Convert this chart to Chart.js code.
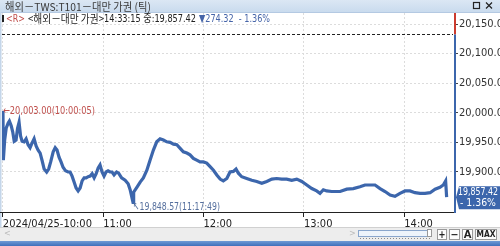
<!DOCTYPE html>
<html><head><meta charset="utf-8">
<script src="https://cdn.jsdelivr.net/npm/chart.js@4.4.1/dist/chart.umd.min.js"></script>
<style>html,body{margin:0;padding:0;background:#fff;}canvas{display:block;}</style>
</head><body>
<div style="width:500px;height:246px;position:relative"><canvas id="c" width="500" height="246"></canvas></div>
<script>
// ---- data (minutes after 10:00, KST) ----
const timeMin = [0.08,0.3,1.1,2.0,3.2,3.9,5.0,5.9,6.8,7.9,8.8,9.7,10.6,11.5,12.7,13.9,15.1,16.3,17.5,18.7,19.9,21.1,22.3,23.5,24.7,26.2,27.4,28.6,30.1,31.3,32.4,33.6,34.8,36.0,37.5,39.0,40.2,41.4,42.6,43.8,45.0,46.2,47.4,48.6,49.8,51.0,52.2,53.4,54.6,55.8,57.0,58.1,59.3,60.5,61.7,62.9,64.1,65.3,66.5,68.0,69.2,71.0,73.1,74.9,76.1,77.82,78.2,80.3,82.1,84.0,86.1,88.0,90.0,92.0,94.0,96.0,98.0,100.0,102.0,104.0,106.0,107.9,110.0,111.9,113.9,115.9,117.9,119.9,121.9,123.9,125.9,127.9,129.9,131.8,133.9,135.8,137.8,139.4,140.8,142.8,145.8,148.8,151.8,154.8,157.8,160.8,163.7,166.7,169.7,172.7,175.7,178.7,181.7,184.7,187.6,189.6,191.6,193.6,196.6,199.6,201.6,205.6,209.5,213.5,216.5,219.5,222.5,225.5,228.5,231.5,234.4,237.4,240.4,243.4,246.4,249.4,252.4,255.4,258.4,261.3,263.3,264.7,265.3];
const price = [20003,19920,19954,19974,19983,19986,19978,19968,19952,19954,19974,19984,19961,19952,19951,19956,19946,19941,19949,19956,19944,19937,19932,19919,19905,19900,19905,19917,19934,19941,19937,19925,19917,19908,19902,19900,19900,19893,19883,19873,19868,19873,19885,19890,19890,19892,19893,19897,19890,19897,19907,19912,19900,19893,19900,19902,19900,19900,19895,19900,19898,19890,19886,19880,19870,19848.57,19866,19875,19883,19890,19903,19920,19937,19951,19956,19954,19951,19950,19947,19946,19940,19934,19932,19929,19923,19920,19917,19917,19915,19909,19903,19895,19888,19885,19889,19900,19901,19905,19898,19892,19889,19886,19884,19881,19884,19888,19889,19888,19888,19886,19888,19884,19878,19872,19868,19864,19870,19868,19867,19867,19867,19871,19872,19875,19878,19878,19878,19872,19867,19861,19859,19864,19868,19868,19865,19864,19864,19865,19871,19874,19878,19885,19857.42];
const xTickMin = [0,60,120,180,240];
const xTickLabels = ['2024/04/25-10:00','11:00','12:00','13:00','14:00'];
const yTicks = [20150,20100,20050,20000,19950,19900];
const prevClose = 20131.74;
const lastPrice = 19857.42;
const lastTime = '14:33:15';
const change = 274.32;
const changePct = -1.36;
const maxPoint = {value:20003.00, time:'10:00:05', min:0.08};
const minPoint = {value:19848.57, time:'11:17:49', min:77.82};
const titleText = '해외－TWS:T101－대만 가권 (틱)';
const itemName = '<해외－대만 가권>';

const fmt = v => v.toLocaleString('en-US',{minimumFractionDigits:2,maximumFractionDigits:2});
const NARROW = "'Liberation Sans Narrow','DejaVu Sans Condensed','Liberation Sans','Noto Sans CJK KR',sans-serif";
const KR = "'Noto Sans CJK KR','Noto Sans',sans-serif";
const BLUE = '#3c66ac';
const RED = '#cc3b2e';

function txt(ctx, s, x, y, font, color, maxW, align) {
  ctx.font = font; ctx.fillStyle = color; ctx.textAlign = align || 'left';
  ctx.textBaseline = 'middle';
  if (maxW) ctx.fillText(s, x, y, maxW); else ctx.fillText(s, x, y);
}

const deco = {
  id: 'deco',
  beforeDraw(chart) {
    const ctx = chart.ctx;
    ctx.save();
    ctx.fillStyle = '#ffffff'; ctx.fillRect(0,0,500,246);
    // title bar
    const g = ctx.createLinearGradient(0,0,0,12);
    g.addColorStop(0,'#dbe7f4'); g.addColorStop(1,'#c9dbee');
    ctx.fillStyle = g; ctx.fillRect(0,0,500,12);
    ctx.fillStyle = '#b4c9e2'; ctx.fillRect(0,12,500,1);
    txt(ctx, titleText, 5, 6.5, '11px '+KR, '#3a3a3a', 146);
    // window icons
    ctx.strokeStyle = '#222'; ctx.lineWidth = 1.2;
    ctx.strokeRect(473.5,2.5,6,6);
    ctx.beginPath(); ctx.moveTo(486,2.5); ctx.lineTo(492,8.5); ctx.moveTo(492,2.5); ctx.lineTo(486,8.5); ctx.stroke();
    // left border
    ctx.fillStyle = '#c4d6ea'; ctx.fillRect(0,12,1.5,229);
    // scroll area
    ctx.fillStyle = '#d0d0d0'; ctx.fillRect(0,227,500,1);
    ctx.fillStyle = '#ededed'; ctx.fillRect(0,228,500,13);
    txt(ctx,'<',4,234,'9px '+NARROW,'#bbb');
    txt(ctx,'>',349,234,'9px '+NARROW,'#bbb');
    ctx.fillStyle = '#eef4fb'; ctx.fillRect(358,230,74,6);
    ctx.strokeStyle = '#8aa6cc'; ctx.lineWidth = 1; ctx.strokeRect(358.5,230.5,73,6);
    ctx.fillStyle = '#fff'; ctx.fillRect(427,229,5,8); ctx.strokeStyle='#999'; ctx.strokeRect(427.5,229.5,4,7);
    ctx.fillStyle = '#8a8a8a';
    for (let x=360; x<430; x+=3) ctx.fillRect(x,238,1,1);
    const btns = [['+',437,447],['−',449,460],['A',462,473],['MAX',475,497]];
    btns.forEach(b=>{
      ctx.fillStyle='#fdfdfd'; ctx.fillRect(b[1],229,b[2]-b[1],11);
      ctx.strokeStyle='#9a9a9a'; ctx.strokeRect(b[1]+0.5,229.5,b[2]-b[1]-1,10);
      txt(ctx,b[0],(b[1]+b[2])/2,235,'bold '+(b[0]==='MAX'?'8px ':'10px ')+"'DejaVu Sans',sans-serif",'#222',b[2]-b[1]-3,'center');
    });
    // bottom blue band
    const g2 = ctx.createLinearGradient(0,241,0,246);
    g2.addColorStop(0,'#6f9ad6'); g2.addColorStop(1,'#3f70bb');
    ctx.fillStyle = g2; ctx.fillRect(0,241,500,5);
    ctx.restore();
  },
  afterDatasetsDraw(chart) {
    const ctx = chart.ctx, xs = chart.scales.x, ys = chart.scales.y, a = chart.chartArea;
    ctx.save();
    // previous close dashed line
    const yp = Math.round(ys.getPixelForValue(prevClose)) - 0.5;
    ctx.strokeStyle = '#222'; ctx.lineWidth = 1; ctx.setLineDash([3,2]);
    ctx.beginPath(); ctx.moveTo(a.left, yp); ctx.lineTo(a.right-2, yp); ctx.stroke();
    ctx.setLineDash([]);
    // x axis line
    ctx.strokeStyle = '#222'; ctx.beginPath(); ctx.moveTo(0,a.bottom+0.5); ctx.lineTo(a.right,a.bottom+0.5); ctx.stroke();
    // right axis: red above previous close, blue below
    ctx.lineWidth = 2;
    ctx.strokeStyle = RED; ctx.beginPath(); ctx.moveTo(a.right,a.top); ctx.lineTo(a.right,yp); ctx.stroke();
    ctx.strokeStyle = BLUE; ctx.beginPath(); ctx.moveTo(a.right,yp); ctx.lineTo(a.right,a.bottom+1); ctx.stroke();
    // max / min labels
    const xmx = xs.getPixelForValue(maxPoint.min), ymx = ys.getPixelForValue(maxPoint.value);
    txt(ctx, '←'+fmt(maxPoint.value)+'('+maxPoint.time+')', xmx, ymx, '11px '+NARROW, '#c0504d', 92);
    const xmn = xs.getPixelForValue(minPoint.min), ymn = ys.getPixelForValue(minPoint.value);
    txt(ctx, '↖'+fmt(minPoint.value)+'('+minPoint.time+')', xmn, ymn+5, '11px '+NARROW, '#56709e', 87);
    // last price tag
    const yl = ys.getPixelForValue(lastPrice);
    ctx.fillStyle = BLUE;
    ctx.beginPath();
    ctx.moveTo(a.right+1, yl); ctx.lineTo(a.right+4, yl-11); ctx.lineTo(500, yl-11);
    ctx.lineTo(500, yl+12); ctx.lineTo(a.right+4, yl+12); ctx.closePath(); ctx.fill();
    txt(ctx, fmt(lastPrice), 498, yl-5, '11px '+NARROW, '#fff', 40, 'right');
    txt(ctx, '- '+Math.abs(changePct).toFixed(2)+'%', 496, yl+6, '11px '+NARROW, '#fff', 36, 'right');
    // info row
    ctx.fillStyle = '#222'; ctx.fillRect(2,15,2,7);
    txt(ctx, '<R>', 6, 19, '11px '+NARROW, '#c0504d', 19);
    txt(ctx, itemName, 28, 19, '11px '+KR, '#222', 76);
    txt(ctx, lastTime+' 중:'+fmt(lastPrice), 104, 19, '11px '+NARROW, '#222', 92);
    txt(ctx, '▼'+fmt(change)+'  - '+Math.abs(changePct).toFixed(2)+'%', 199, 19, '11px '+NARROW, '#4564a8', 71);
    ctx.restore();
  }
};

new Chart(document.getElementById('c'), {
  type: 'line',
  data: { datasets: [{
    data: timeMin.map((t,i)=>({x:t, y:price[i]})),
    borderColor: BLUE, borderWidth: 3.2, pointRadius: 0, tension: 0, fill: false, borderJoinStyle: 'miter'
  }]},
  options: {
    responsive: false, devicePixelRatio: 1, animation: false,
    layout: { padding: { left: 2, top: 13, right: 0, bottom: 0 } },
    plugins: { legend: {display:false}, tooltip: {enabled:false}, title:{display:false} },
    scales: {
      x: {
        type: 'linear', min: -0.5, max: 270.3, position: 'bottom',
        afterFit: s => { s.height = 34; },
        afterBuildTicks: s => { s.ticks = xTickMin.map(v=>({value:v})); },
        ticks: { callback: (v,i) => xTickLabels[i], align: 'start', maxRotation: 0, autoSkip: false,
                 font: { family: NARROW, size: 11 }, color: '#222', padding: 1 },
        grid: { color: '#dcdcdc', tickColor: '#222', tickLength: 5, drawTicks: true },
        border: { display: false, dash: [2,2] }
      },
      y: {
        type: 'linear', position: 'right', min: 19832.4, max: 20168.6,
        afterFit: s => { s.width = 45; },
        afterBuildTicks: s => { s.ticks = yTicks.map(v=>({value:v})); },
        ticks: { callback: v => fmt(v), font: { family: NARROW, size: 11 }, color: '#333', padding: 1 },
        grid: { color: '#dcdcdc', tickColor: '#444', tickLength: 3, drawTicks: true },
        border: { display: false, dash: [2,2] }
      }
    }
  },
  plugins: [deco]
});
</script>
</body></html>
